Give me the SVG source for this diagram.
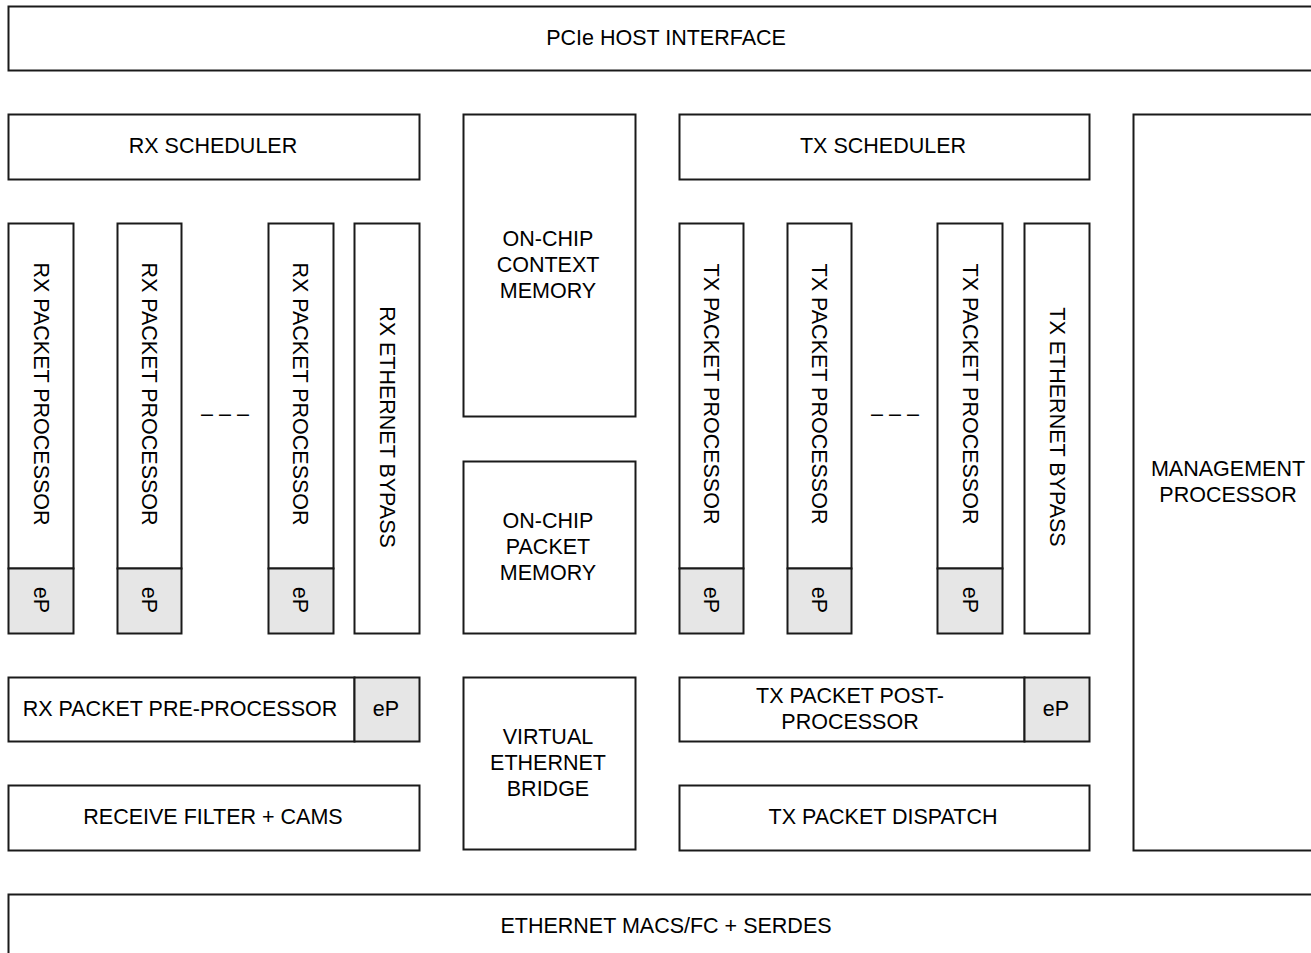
<svg xmlns="http://www.w3.org/2000/svg" width="1311" height="953" viewBox="0 0 1311 953">
<style>
rect{fill:#fff;stroke:#1a1a1a;stroke-width:2}
rect.ep{fill:#e6e6e6}
text{font-family:"Liberation Sans",Arial,sans-serif;font-size:21.5px;fill:#000;text-anchor:middle;dominant-baseline:central}
</style>
<rect x="0" y="0" width="1311" height="953" style="fill:#fff;stroke:none"/>
<g id="pcie"><rect x="8.5" y="6.5" width="1320" height="64"/><text x="666" y="38">PCIe HOST INTERFACE</text></g>
<g id="rxsched"><rect x="8.5" y="114.5" width="411" height="65"/><text x="213" y="146">RX SCHEDULER</text></g>
<g id="ctxmem"><rect x="463.5" y="114.5" width="172" height="302"/><text x="548" y="239">ON-CHIP</text><text x="548" y="265">CONTEXT</text><text x="548" y="291">MEMORY</text></g>
<g id="txsched"><rect x="679.5" y="114.5" width="410" height="65"/><text x="883" y="146">TX SCHEDULER</text></g>
<g id="mgmt"><rect x="1133.5" y="114.5" width="195" height="736"/><text x="1228" y="469">MANAGEMENT</text><text x="1228" y="495">PROCESSOR</text></g>
<g id="rxpp1"><rect x="8.5" y="223.5" width="65" height="345"/><rect class="ep" x="8.5" y="568.5" width="65" height="65"/><text transform="translate(41,394) rotate(90)">RX PACKET PROCESSOR</text><text transform="translate(41,600) rotate(90)">eP</text></g>
<g id="rxpp2"><rect x="117.5" y="223.5" width="64" height="345"/><rect class="ep" x="117.5" y="568.5" width="64" height="65"/><text transform="translate(149,394) rotate(90)">RX PACKET PROCESSOR</text><text transform="translate(149,600) rotate(90)">eP</text></g>
<g id="rxdots"><text x="225" y="414">– – –</text></g>
<g id="rxpp3"><rect x="268.5" y="223.5" width="65" height="345"/><rect class="ep" x="268.5" y="568.5" width="65" height="65"/><text transform="translate(300,394) rotate(90)">RX PACKET PROCESSOR</text><text transform="translate(300,600) rotate(90)">eP</text></g>
<g id="rxbypass"><rect x="354.5" y="223.5" width="65" height="410"/><text transform="translate(387,427) rotate(90)">RX ETHERNET BYPASS</text></g>
<g id="pktmem"><rect x="463.5" y="461.5" width="172" height="172"/><text x="548" y="521">ON-CHIP</text><text x="548" y="547">PACKET</text><text x="548" y="573">MEMORY</text></g>
<g id="txpp1"><rect x="679.5" y="223.5" width="64" height="345"/><rect class="ep" x="679.5" y="568.5" width="64" height="65"/><text transform="translate(711,394) rotate(90)">TX PACKET PROCESSOR</text><text transform="translate(711,600) rotate(90)">eP</text></g>
<g id="txpp2"><rect x="787.5" y="223.5" width="64" height="345"/><rect class="ep" x="787.5" y="568.5" width="64" height="65"/><text transform="translate(819,394) rotate(90)">TX PACKET PROCESSOR</text><text transform="translate(819,600) rotate(90)">eP</text></g>
<g id="txdots"><text x="895" y="414">– – –</text></g>
<g id="txpp3"><rect x="937.5" y="223.5" width="65" height="345"/><rect class="ep" x="937.5" y="568.5" width="65" height="65"/><text transform="translate(970,394) rotate(90)">TX PACKET PROCESSOR</text><text transform="translate(970,600) rotate(90)">eP</text></g>
<g id="txbypass"><rect x="1024.5" y="223.5" width="65" height="410"/><text transform="translate(1057,427) rotate(90)">TX ETHERNET BYPASS</text></g>
<g id="rxpre"><rect x="8.5" y="677.5" width="346" height="64"/><rect class="ep" x="354.5" y="677.5" width="65" height="64"/><text x="180" y="709">RX PACKET PRE-PROCESSOR</text><text x="386" y="709">eP</text></g>
<g id="veb"><rect x="463.5" y="677.5" width="172" height="172"/><text x="548" y="737">VIRTUAL</text><text x="548" y="763">ETHERNET</text><text x="548" y="789">BRIDGE</text></g>
<g id="txpost"><rect x="679.5" y="677.5" width="345" height="64"/><rect class="ep" x="1024.5" y="677.5" width="65" height="64"/><text x="850" y="696">TX PACKET POST-</text><text x="850" y="722">PROCESSOR</text><text x="1056" y="709">eP</text></g>
<g id="rxfilter"><rect x="8.5" y="785.5" width="411" height="65"/><text x="213" y="817">RECEIVE FILTER + CAMS</text></g>
<g id="txdispatch"><rect x="679.5" y="785.5" width="410" height="65"/><text x="883" y="817">TX PACKET DISPATCH</text></g>
<g id="eth"><rect x="8.5" y="894.5" width="1320" height="80"/><text x="666" y="926">ETHERNET MACS/FC + SERDES</text></g>
<g id="connectors"></g>
</svg>
